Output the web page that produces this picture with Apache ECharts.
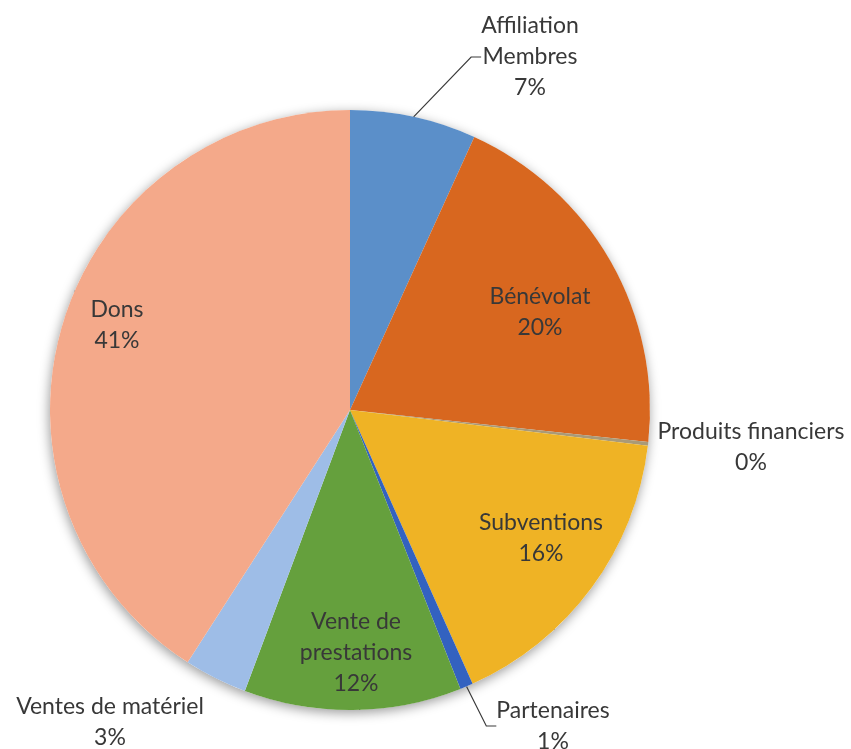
<!DOCTYPE html>
<html>
<head>
<meta charset="utf-8">
<script src="https://cdn.jsdelivr.net/npm/echarts@6/dist/echarts.min.js"></script>
<style>
  html, body { margin: 0; background: #fff; }
  #chart { width: 851px; height: 749px; }
</style>
</head>
<body>
<div id="chart"></div>
<script>
// slices, clockwise from 12 o'clock
const categories = ['Affiliation\nMembres', 'Bénévolat', 'Produits financiers', 'Subventions',
  'Partenaires', 'Vente de\nprestations', 'Ventes de matériel', 'Dons'];
const shares = [6.8, 19.9, 0.2, 16.4, 0.7, 11.7, 3.4, 40.9];
const colors = ['#5b8fc9', '#d8671f', '#a99a78', '#efb325', '#3362c0', '#65a03d', '#9ebde7', '#f4a98a'];

const insideOnes = ['Bénévolat', 'Subventions', 'Vente de\nprestations', 'Dons'];
const withLeader = ['Affiliation\nMembres', 'Partenaires'];

// where each label block is centred (px)
const labelSpots = [[530, 57], [540, 312], [751, 447], [541, 538],
  [553, 726], [356, 653], [110, 722], [117, 325]];

const CENTER = [350, 410];
const RADIUS = 300;

var chart = echarts.init(document.getElementById('chart'));

const pieData = categories.map((name, i) => {
  const item = { name: name, value: shares[i], itemStyle: { color: colors[i] } };
  if (insideOnes.includes(name)) {
    item.label = { position: 'inside' };
  } else if (!withLeader.includes(name)) {
    item.labelLine = { show: false };
  }
  return item;
});

var option = {
  backgroundColor: '#fff',
  animation: false,
  series: [
    {
      // soft shadow under the whole pie
      type: 'pie',
      silent: true,
      center: CENTER,
      radius: RADIUS,
      z: 1,
      label: { show: false },
      labelLine: { show: false },
      itemStyle: {
        color: '#fff',
        shadowBlur: 12,
        shadowColor: 'rgba(0,0,0,0.4)',
        shadowOffsetX: -1,
        shadowOffsetY: 3
      },
      data: [{ value: 1, name: '' }]
    },
    {
      type: 'pie',
      center: CENTER,
      radius: RADIUS,
      z: 2,
      startAngle: 90,
      clockwise: true,
      avoidLabelOverlap: false,
      percentPrecision: 0,
      itemStyle: { borderWidth: 0 },
      label: {
        show: true,
        position: 'outside',
        formatter: '{b}\n{d}%',
        fontFamily: 'Lato',
        fontSize: 23,
        lineHeight: 31,
        color: '#383838'
      },
      labelLine: {
        show: true,
        length: 10,
        length2: 10,
        smooth: false,
        lineStyle: { color: '#3a3a3a', width: 1.2 }
      },
      labelLayout: function (p) {
        const s = labelSpots[p.dataIndex];
        return { x: s[0], y: s[1], align: 'center', verticalAlign: 'middle' };
      },
      data: pieData
    }
  ]
};

chart.setOption(option);
</script>
</body>
</html>
